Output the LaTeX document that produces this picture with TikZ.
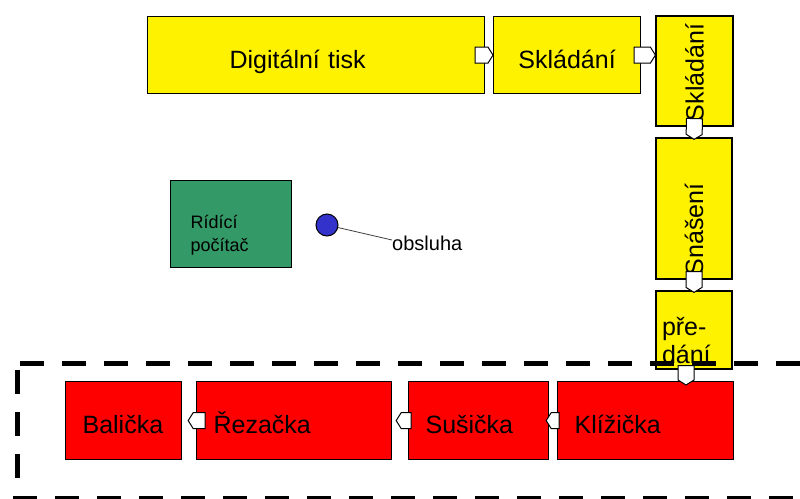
\documentclass[tikz,border=0pt]{standalone}
\usepackage{fontspec}
\setmainfont{Liberation Sans}
\usetikzlibrary{calc}

\definecolor{pcgreen}{RGB}{51,153,102}
\definecolor{opblue}{RGB}{51,51,204}

\tikzset{
  box/.style={
    draw=black,
    line width=1.2pt,
    inner sep=0pt,
    font=\fontsize{25}{28}\selectfont
  },
  yellowbox/.style={box, fill=yellow},
  oneline/.style={text height=26pt, text depth=0pt},
  redbox/.style={
    box, fill=red, oneline,
    anchor=north west,
    minimum height=78pt,
    align=left,
    inner xsep=17pt,
    text width=#1
  },
  nub/.style={
    draw=black, fill=white, line width=1pt,
    to path={
      ($(\tikztostart)!8pt!90:(\tikztotarget)$)
      -- ($(\tikztotarget)!5pt!(\tikztostart)!8pt!-90:(\tikztostart)$)
      -- (\tikztotarget)
      -- ($(\tikztotarget)!5pt!(\tikztostart)!8pt!90:(\tikztostart)$)
      -- ($(\tikztostart)!8pt!-90:(\tikztotarget)$)
      -- cycle
    }
  },
  frame/.style={
    black, line width=5pt,
    dash pattern=on 24pt off 18pt
  }
}

\begin{document}
\begin{tikzpicture}[x=1pt,y=-1pt]
    \useasboundingbox (0,0) rectangle (800,498);
    \clip (0,0) rectangle (800,498);

    % tisk a skládání
    \node[yellowbox, oneline, anchor=north west, minimum height=77pt,
          align=left, inner xsep=82pt, text width=173pt]
        (tisk) at (147,16) {Digitální tisk};
    \node[yellowbox, oneline, anchor=north west, minimum width=147pt, minimum height=77pt]
        (sklad) at (493,16) {Skládání};
    \node[yellowbox, rotate=90, minimum width=110pt, minimum height=77pt,
          align=left, inner xsep=5pt, text width=100pt]
        (skladv) at (694.5,71) {Skládání};
    \node[yellowbox, rotate=90, minimum width=141pt, minimum height=76pt,
          align=left, inner xsep=4pt, text width=133pt]
        (snaseni) at (694,208.5) {Snášení};
    \node[yellowbox, minimum width=76pt, minimum height=78pt,
          align=left, inner xsep=6pt, text width=64pt,
          text height=19pt, text depth=9pt]
        (predani) at (694,330) {pře-\\dání};

    % linka
    \node[redbox=82pt]  (balicka)  at (65,381)  {Balička};
    \node[redbox=161pt] (rezacka)  at (196,381) {Řezačka};
    \node[redbox=106pt] (susicka)  at (408,381) {Sušička};
    \node[redbox=142pt] (klizicka) at (557,381) {Klížička};

    % řízení
    \node[box, fill=pcgreen, anchor=north west, minimum height=87pt,
          align=left, inner xsep=20pt, text width=81pt,
          text height=14pt, text depth=5pt,
          font=\fontsize{18}{23}\selectfont]
        (pc) at (170,180) {Rídící\\počítač};
    \node[circle, draw=black, fill=opblue, line width=1pt, minimum size=22pt]
        (op) at (327,225) {};
    \node[anchor=west, inner sep=0pt, font=\fontsize{20}{22}\selectfont]
        (obsluha) at (392,243) {obsluha};
    \draw[black!75, line width=0.8pt] (op) -- ([yshift=3pt]obsluha.west);

    % hranice
    \draw[frame] (20,363.5) -- (812,363.5);
    \draw[frame] (17,370) -- (17,480);
    \draw[frame] (13,498) -- (812,498);

    % spoje
    \draw[nub] ([xshift=-10pt]tisk.east) to (sklad.west);
    \draw[nub] ([xshift=-7pt]sklad.east) to (skladv.north |- sklad.east);
    \draw[nub] ([yshift=8pt]skladv.west) to ([yshift=-2pt]snaseni.east);
    \draw[nub] ([yshift=8pt]snaseni.west) to ([yshift=-2pt]predani.north);
    \draw[nub] ($(predani.south)+(-8,-4)$) to ($(predani.south |- klizicka.north)+(-8,4)$);
    \draw[nub] ([xshift=2pt]klizicka.west) to ([xshift=-3pt]susicka.east);
    \draw[nub] ([xshift=3pt]susicka.west) to ([xshift=4pt]rezacka.east);
    \draw[nub] ([xshift=9pt]rezacka.west) to ([xshift=6pt]balicka.east);
\end{tikzpicture}
\end{document}
